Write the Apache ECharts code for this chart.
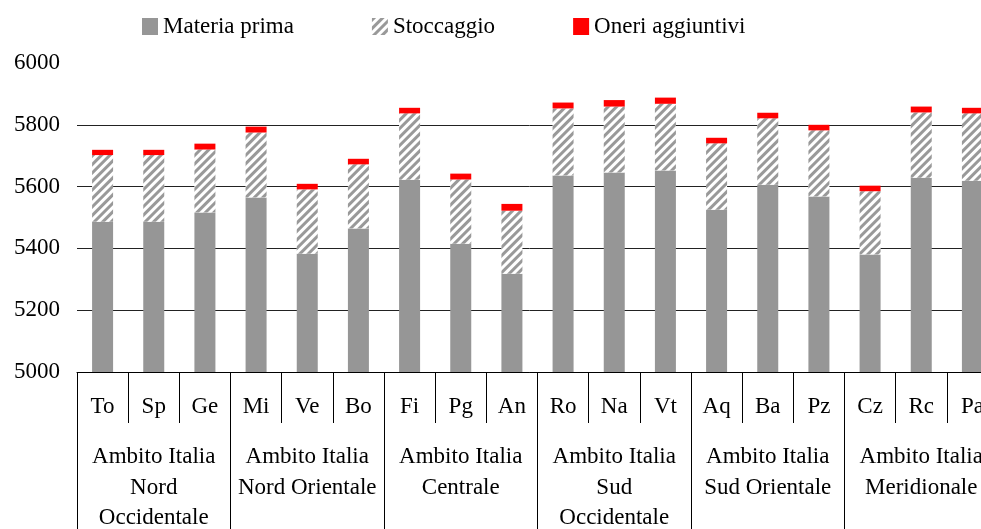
<!DOCTYPE html>
<html>
<head>
<meta charset="utf-8">
<script src="https://cdn.jsdelivr.net/npm/echarts@6/dist/echarts.min.js"></script>
<style>
	html, body { margin: 0; padding: 0; background: #fff; }
	#chart { width: 981px; height: 529px; }
</style>
</head>
<body>
<div id="chart"></div>
<script>
var citta = ['To', 'Sp', 'Ge', 'Mi', 'Ve', 'Bo', 'Fi', 'Pg', 'An', 'Ro', 'Na', 'Vt', 'Aq', 'Ba', 'Pz', 'Cz', 'Rc', 'Pa'];
var ambiti = [
	'Ambito Italia\nNord\nOccidentale',
	'Ambito Italia\nNord Orientale',
	'Ambito Italia\nCentrale',
	'Ambito Italia\nSud\nOccidentale',
	'Ambito Italia\nSud Orientale',
	'Ambito Italia\nMeridionale'
];
var materia_prima = [5486, 5486, 5516, 5565, 5383, 5464, 5622, 5415, 5318, 5636, 5646, 5652, 5525, 5606, 5568, 5380, 5629, 5619];
var stoccaggio = [216, 216, 204, 210, 208, 208, 215, 208, 204, 217, 213, 216, 215, 215, 214, 205, 211, 218];
var oneri = [17, 17, 19, 19, 18, 18, 18, 19, 22, 19, 21, 20, 18, 18, 18, 18, 19, 18];

var font = 'Liberation Serif, Times New Roman, serif';
var chart = echarts.init(document.getElementById('chart'));
var option = {
	animation: false,
	grid: {
		left: 77,
		right: -17,
		top: 63,
		bottom: 157,
		outerBoundsMode: 'none'
	},
	legend: {
		left: 142,
		top: 15,
		padding: 0,
		icon: 'rect',
		itemWidth: 16,
		itemHeight: 17,
		itemGap: 78,
		textStyle: { fontSize: 23, fontFamily: font, color: '#000' },
		data: ['Materia prima', 'Stoccaggio', 'Oneri aggiuntivi']
	},
	xAxis: [
		{
			type: 'category',
			data: citta,
			position: 'bottom',
			axisLine: { show: true, lineStyle: { color: '#000', width: 1 } },
			axisTick: { show: true, length: 51, lineStyle: { color: '#000' } },
			axisLabel: {
				interval: 0,
				margin: 35,
				verticalAlign: 'middle',
				fontSize: 23,
				fontFamily: font,
				color: '#000'
			}
		},
		{
			type: 'category',
			data: ambiti,
			position: 'bottom',
			axisLine: { show: false },
			axisTick: { show: true, length: 160, lineStyle: { color: '#000' } },
			axisLabel: {
				interval: 0,
				margin: 70,
				verticalAlign: 'top',
				lineHeight: 30.5,
				fontSize: 23,
				fontFamily: font,
				color: '#000'
			}
		}
	],
	yAxis: {
		type: 'value',
		min: 5000,
		max: 6000,
		interval: 200,
		axisLine: { show: false },
		axisTick: { show: false },
		splitLine: { show: true, showMaxLine: false, lineStyle: { color: '#222', width: 1 } },
		axisLabel: {
			margin: 17,
			fontSize: 23,
			fontFamily: font,
			color: '#000',
			formatter: function (v) { return String(v); }
		}
	},
	series: [
		{
			name: 'Materia prima',
			type: 'bar',
			stack: 'tot',
			barWidth: 21,
			itemStyle: { color: '#969696' },
			data: materia_prima
		},
		{
			name: 'Stoccaggio',
			type: 'bar',
			stack: 'tot',
			barWidth: 21,
			itemStyle: {
				color: '#fff',
				decal: {
					symbol: 'rect',
					symbolSize: 1,
					color: '#999999',
					dashArrayX: [1, 0],
					dashArrayY: [3, 3],
					rotation: -Math.PI / 4
				}
			},
			data: stoccaggio
		},
		{
			name: 'Oneri aggiuntivi',
			type: 'bar',
			stack: 'tot',
			barWidth: 21,
			itemStyle: { color: '#ff0000' },
			data: oneri
		}
	]
};
chart.setOption(option);
</script>
</body>
</html>
